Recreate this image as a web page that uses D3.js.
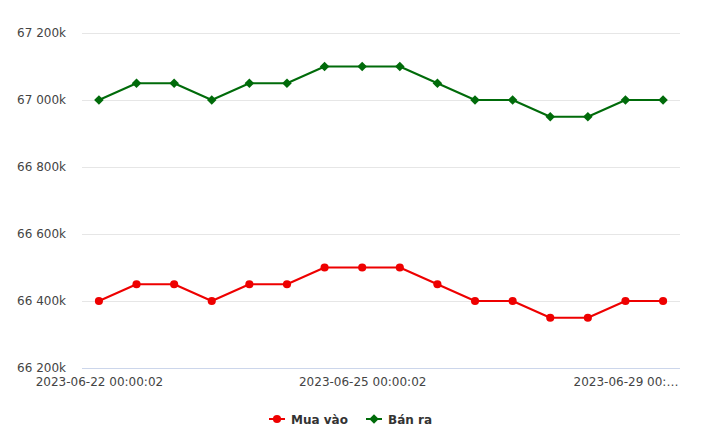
<!DOCTYPE html>
<html><head><meta charset="utf-8">
<script src="https://cdn.jsdelivr.net/npm/d3@7"></script>
<style>
body{margin:0;background:#fff;}
svg{display:block;font-family:"DejaVu Sans",sans-serif;}
</style></head>
<body><svg id="c" width="720" height="444"></svg>
<script>
const categories = [
 "2023-06-22 00:00:02","2023-06-22 08:30:01","2023-06-23 00:00:02","2023-06-23 09:00:01",
 "2023-06-24 00:00:02","2023-06-24 08:30:01","2023-06-24 15:00:01","2023-06-25 00:00:02",
 "2023-06-26 00:00:02","2023-06-26 09:00:01","2023-06-27 00:00:02","2023-06-27 09:00:01",
 "2023-06-28 00:00:02","2023-06-28 09:00:01","2023-06-29 00:00:02","2023-06-29 09:00:01"];
const muaVao = [66400,66450,66450,66400,66450,66450,66500,66500,66500,66450,66400,66400,66350,66350,66400,66400];
const banRa  = [67000,67050,67050,67000,67050,67050,67100,67100,67100,67050,67000,67000,66950,66950,67000,67000];
const yTicks = [66200,66400,66600,66800,67000,67200];
const xTickEvery = 7;
const seriesNames = ["Mua vào","Bán ra"];

const svg = d3.select("#c");
const L=82, R=680, T=33, B=368;
const x = d3.scalePoint().domain(categories).range([L,R]).padding(0.45);
const y = d3.scaleLinear().domain([66200,67200]).range([B,T]);
const fmt = v => d3.format(",")(v).replace(/,/g," ")+"k";

// grid
svg.append("g").selectAll("line").data(yTicks.slice(1)).join("line")
  .attr("x1",L).attr("x2",R).attr("y1",d=>y(d)+0.5).attr("y2",d=>y(d)+0.5)
  .attr("stroke","#e6e6e6").attr("stroke-width",1);
svg.append("line").attr("x1",L).attr("x2",R).attr("y1",B+0.5).attr("y2",B+0.5)
  .attr("stroke","#ccd6eb").attr("stroke-width",1);

// y labels via axis
const ya = svg.append("g").attr("transform",`translate(${L-16},0)`)
  .call(d3.axisLeft(y).tickValues(yTicks).tickFormat(fmt).tickSize(0).tickPadding(0));
ya.select(".domain").remove();
ya.selectAll("text").attr("font-size",12).attr("fill","#444").attr("font-family","DejaVu Sans");

// x labels
const xa = svg.append("g").attr("transform",`translate(0,${B})`)
  .call(d3.axisBottom(x).tickValues(categories.filter((d,i)=>i%xTickEvery===0)).tickSize(0).tickPadding(9));
xa.select(".domain").remove();
xa.selectAll("text").attr("font-size",12).attr("fill","#444").attr("font-family","DejaVu Sans")
  .each(function(d){
    const t=d3.select(this); const cx=x(d);
    let s=d; const maxW = 2*(R-cx)+2;
    while(this.getComputedTextLength()>maxW && s.length>3){ s=s.slice(0,-1); t.text(s+"…"); }
  });

const line = d3.line().x((d,i)=>x(categories[i])).y(d=>y(d));
const series = [
  {name:seriesNames[0], data:muaVao, color:"#ee0000", marker:"circle"},
  {name:seriesNames[1], data:banRa, color:"#006b0a", marker:"diamond"}
];
const sym = m => d3.symbol().type(m==="circle"?d3.symbolCircle:d3.symbolDiamond2).size(m==="circle"?52:58);
series.forEach(s=>{
  svg.append("path").datum(s.data).attr("d",line).attr("fill","none")
    .attr("stroke",s.color).attr("stroke-width",2).attr("stroke-linejoin","round");
  svg.append("g").selectAll("path").data(s.data).join("path")
    .attr("d",sym(s.marker)).attr("fill",s.color)
    .attr("transform",(d,i)=>`translate(${x(categories[i])},${y(d)})`);
});

// legend
const lg = svg.append("g").attr("transform","translate(0,419)");
const lx = [269, 366];
series.forEach((s,i)=>{
  const g=lg.append("g").attr("transform",`translate(${lx[i]},0)`);
  g.append("line").attr("x1",0).attr("x2",16).attr("y1",0).attr("y2",0).attr("stroke",s.color).attr("stroke-width",2);
  g.append("path").attr("d",sym(s.marker)).attr("fill",s.color).attr("transform","translate(8,0)");
  g.append("text").attr("x",22).attr("y",4.5).text(s.name).attr("font-size",12).attr("font-weight","bold").attr("fill","#333");
});
</script></body></html>
